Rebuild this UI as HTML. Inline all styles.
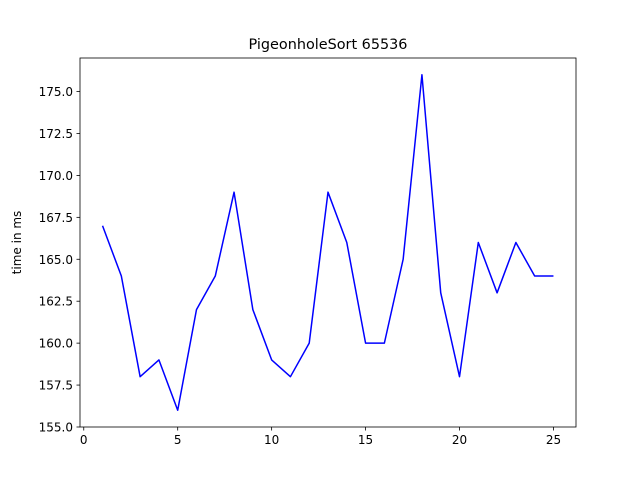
<!DOCTYPE html>
<html><head><meta charset="utf-8"><style>
body{margin:0;background:#fff;}
svg{display:block;font-family:"DejaVu Sans","Liberation Sans",sans-serif;}
</style></head><body>
<svg id="chart" width="640" height="480" viewBox="0 0 640 480">
<rect width="640" height="480" fill="#fff"/>
<text x="328" y="49" font-size="14.4" text-anchor="middle">PigeonholeSort 65536</text>
<text transform="translate(21,242.5) rotate(-90)" font-size="12" text-anchor="middle">time in ms</text>
<g id="ticks"></g>
<polyline id="line" fill="none" stroke="#0000ff" stroke-width="1.5" stroke-linejoin="round"/>
<rect x="80" y="58" width="496" height="369" fill="none" stroke="#000" stroke-width="0.8"/>
</svg>
<script>
const xValues=[1,2,3,4,5,6,7,8,9,10,11,12,13,14,15,16,17,18,19,20,21,22,23,24,25];
const yValues=[167,164,158,159,156,162,164,169,162,159,158,160,169,166,160,160,165,176,163,158,166,163,166,164,164];
const xTicks=[0,5,10,15,20,25];
const yTicks=[155,157.5,160,162.5,165,167.5,170,172.5,175];
const L=80,R=576,T=58,B=427,xMin=-0.2,xMax=26.2,yMin=155,yMax=177;
const sx=v=>L+(v-xMin)/(xMax-xMin)*(R-L);
const sy=v=>B-(v-yMin)/(yMax-yMin)*(B-T);
const ns="http://www.w3.org/2000/svg";
const g=document.getElementById('ticks');
function mk(t,a){const e=document.createElementNS(ns,t);for(const k in a)e.setAttribute(k,a[k]);return e;}
xTicks.forEach(v=>{
 const x=sx(v);
 const l=mk('line',{x1:x,x2:x,y1:B,y2:B+3.5,stroke:'#000','stroke-width':0.8});
 
 
 g.appendChild(l);
 const t=mk('text',{x:x,y:B+17,'font-size':12,'text-anchor':'middle'});
 t.textContent=v;
 
 
 g.appendChild(t);
});
yTicks.forEach(v=>{
 const y=sy(v);
 const l=mk('line',{x1:L-3.5,x2:L,y1:y,y2:y,stroke:'#000','stroke-width':0.8});
 
 
 g.appendChild(l);
 const t=mk('text',{x:L-7,y:y+4.5,'font-size':12,'text-anchor':'end'});
 t.textContent=v.toFixed(1);
 
 
 g.appendChild(t);
});
document.getElementById('line').setAttribute('points',xValues.map((x,i)=>sx(x)+','+sy(yValues[i])).join(' '));
</script>
</body></html>
